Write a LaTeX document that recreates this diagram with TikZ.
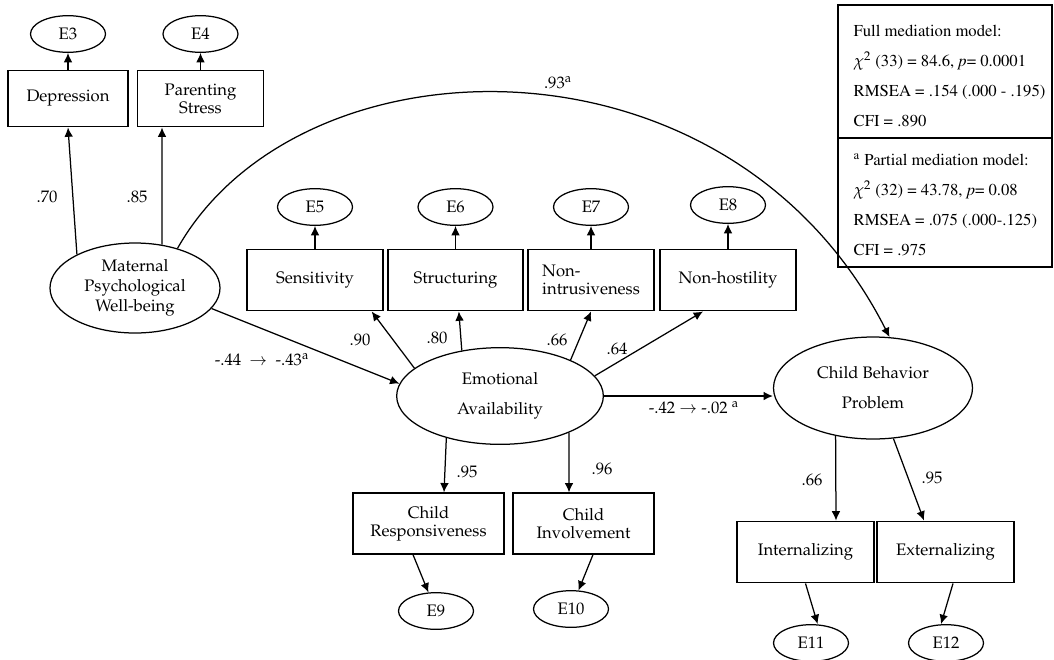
\documentclass[tikz,border=0pt]{standalone}
\usepackage[T1]{fontenc}
\usepackage{mathpazo}
\usetikzlibrary{arrows.meta,positioning,shapes.geometric}
\tikzset{every picture/.style={line width=0.75pt}}
\tikzstyle{obs}=[rectangle,draw,align=center,inner sep=2pt,minimum height=37pt]
\tikzstyle{lat}=[ellipse,draw,align=center,inner sep=0pt]
\tikzstyle{err}=[ellipse,draw,inner sep=0pt,minimum width=45pt,minimum height=22pt]
\newcommand{\fitfont}{\fontfamily{ptm}\selectfont}

\begin{document}
\begin{tikzpicture}[x=0.6pt,y=-0.6pt,>={Latex[length=5.6pt,width=5.2pt]}]
\useasboundingbox (0,0) rectangle (1054,659);
% maternal well-being and its indicators
\node[lat,minimum width=102pt,minimum height=54pt] (MPW) at (135,288) {Maternal\\Psychological\\Well-being};
\node[obs,minimum width=72pt,minimum height=34pt] (Dep) at (68,98.5) {Depression};
\node[obs,minimum width=76pt,minimum height=34pt] (PS) at (200.5,98.5) {Parenting\\[-1.2pt]Stress};
\node[err] (E3) at (68,34) {E3};
\node[err] (E4) at (200.5,34) {E4};
% emotional availability
\node[lat,minimum width=124pt,minimum height=58pt] (EA) at (500,396) {Emotional\\[6pt]Availability};
\node[obs,minimum width=81.6pt] (Sens) at (315,280) {Sensitivity};
\node[obs,minimum width=81pt] (Struct) at (455.5,280) {Structuring};
\node[obs,minimum width=75.6pt,align=left] (NonIntr) at (591,280) {Non-\\[-1.2pt]intrusiveness};
\node[obs,minimum width=81.6pt] (NonHost) at (728,280) {Non-hostility};
\node[err] (E5) at (315,207) {E5};
\node[err] (E6) at (455.5,207) {E6};
\node[err] (E7) at (591,207) {E7};
\node[err] (E8) at (728,205) {E8};
\node[obs,minimum width=90.6pt,minimum height=36.6pt] (CR) at (428.5,523.5) {Child\\[-1.2pt]Responsiveness};
\node[obs,minimum width=84.6pt,minimum height=36.6pt] (CI) at (583.5,523.5) {Child\\[-1.2pt]Involvement};
\node[err] (E9) at (436,611) {E9};
\node[err] (E10) at (571,609) {E10};
% child behavior problem
\node[lat,minimum width=119.4pt,minimum height=61.2pt] (CBP) at (873,388) {Child Behavior\\[6pt]Problem};
\node[obs,minimum width=82.2pt] (Int) at (805.5,552) {Internalizing};
\node[obs,minimum width=82.2pt] (Ext) at (945.5,552) {Externalizing};
\node[err] (E11) at (811,643) {E11};
\node[err] (E12) at (946,643) {E12};
% fit indices
\draw (838,5) rectangle (1052,267);
\draw (838,138) -- (1052,138);
\node[anchor=north west,align=left,inner sep=0pt,font=\fitfont] (Full) at (853,25)
  {Full mediation model:\\[6pt]$\chi^2$ (33) = 84.6, \textit{p}= 0.0001\\[6pt]RMSEA = .154 (.000 - .195)\\[6pt]CFI = .890};
\node[anchor=north west,align=left,inner sep=0pt,font=\fitfont] (Part) at (853,153)
  {\textsuperscript{a} Partial mediation model:\\[6pt]$\chi^2$ (32) = 43.78, \textit{p}= 0.08\\[6pt]RMSEA = .075 (.000-.125)\\[6pt]CFI = .975};
% paths
\draw[->] (MPW.150) -- (Dep.south);
\draw[->] (MPW.58) -- ([xshift=-23.1pt]PS.south);
\draw[->] (Dep) -- (E3);
\draw[->] (PS) -- (E4);
\draw[->] (MPW.-15) -- (EA.173);
\draw[->] (EA.162) -- ([xshift=34pt]Sens.south);
\draw[->] (EA.130) -- ([xshift=2pt]Struct.south);
\draw[->] (EA.27) -- (NonIntr.south);
\draw[->] (EA.12) -- ([xshift=-15pt]NonHost.south);
\draw[->] (Sens) -- (E5);
\draw[->] (Struct) -- (E6);
\draw[->] (NonIntr) -- (E7);
\draw[->] (NonHost) -- (E8);
\draw[->] (EA.-142) -- ([xshift=9.3pt]CR.north);
\draw[->] (EA.-28) -- ([xshift=-8.7pt]CI.north);
\draw[->] ([xshift=-9.3pt]CR.south) -- (E9);
\draw[->] ([xshift=5.7pt]CI.south) -- (E10);
\draw[->] (EA.east) -- (EA.east -| CBP.west);
\draw[->] (MPW.43) .. controls (300,32) and (730,22) .. (CBP.72);
\draw[->] (CBP.-128) -- ([xshift=18.3pt]Int.north);
\draw[->] (CBP.-68) -- ([xshift=-12.9pt]Ext.north);
\draw[->] (Int.south) -- ([xshift=4pt]E11.north);
\draw[->] ([xshift=4.5pt]Ext.south) -- ([xshift=-3pt]E12.north);
% coefficients
\node (l70) at (47,197) {.70};
\node (l85) at (137,197) {.85};
\node (l93) at (558,83) {.93\textsuperscript{a}};
\node (l44) at (262,360) {-.44\enspace$\rightarrow$\enspace-.43\textsuperscript{a}};
\node (l90) at (360,340) {.90};
\node (l80) at (437,338) {.80};
\node (l66a) at (557,340) {.66};
\node (l64) at (617,349) {.64};
\node (l42) at (694,408) {-.42 $\rightarrow$ -.02 \textsuperscript{a}};
\node (l95a) at (467,472) {.95};
\node (l96) at (602,469) {.96};
\node (l66b) at (812,480) {.66};
\node (l95b) at (932,478) {.95};
\end{tikzpicture}
\end{document}
